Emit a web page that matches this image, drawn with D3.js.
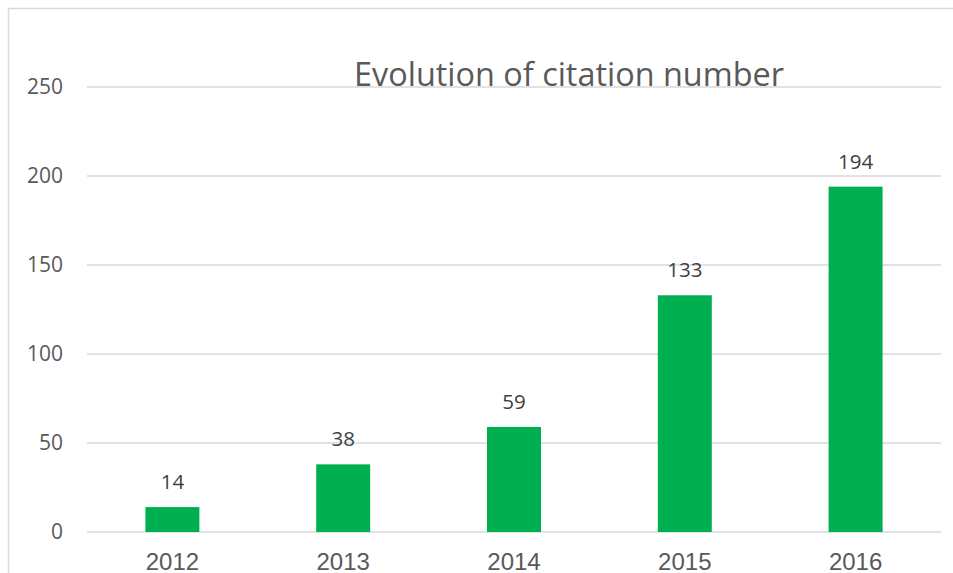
<!DOCTYPE html>
<html><head><meta charset="utf-8">
<script src="https://cdn.jsdelivr.net/npm/d3@7"></script>
<style>body{margin:0;background:#fff}svg{display:block}</style>
</head><body>
<svg id="c" width="953" height="573"></svg>
<script>
const categories = ["2012","2013","2014","2015","2016"];
const citations = [14, 38, 59, 133, 194];
const yTicks = [0, 50, 100, 150, 200, 250];
const chartTitle = "Evolution of citation number";

(function(){
const svg = d3.select("#c");
const W = 953, H = 573;
const pLeft = 87, pRight = 941, pTop = 87, pBottom = 532;

// chart border
svg.append("path").attr("d", `M8.5,${H} L8.5,8.5 L${W},8.5`).attr("fill","none").attr("stroke","#d9d9d9").attr("stroke-width",1.5);

const x = d3.scaleBand().domain(categories).range([pLeft, pRight]).paddingInner(0.684).paddingOuter(0.342);
const y = d3.scaleLinear().domain([0, 250]).range([pBottom, pTop]);

// gridlines
svg.append("g").selectAll("line").data(yTicks).join("line")
  .attr("x1", pLeft).attr("x2", pRight)
  .attr("y1", d => y(d)).attr("y2", d => y(d))
  .attr("stroke", "#d9d9d9").attr("stroke-width", 1.5);

// y axis labels
const yAxis = d3.axisLeft(y).tickValues(yTicks).tickSize(0).tickPadding(0);
const gy = svg.append("g").attr("transform", `translate(63,0)`).call(yAxis);
gy.select(".domain").remove();
gy.selectAll("text").attr("font-family","Open Sans").attr("font-size",21).attr("fill","#595959");

// title
svg.append("text").attr("x", 569).attr("y", 86).attr("text-anchor","middle")
  .attr("font-family","Open Sans").attr("font-size",32).attr("fill","#595959")
  .attr("textLength", 430).attr("lengthAdjust","spacingAndGlyphs").text(chartTitle);

// bars
svg.append("g").selectAll("rect").data(citations).join("rect")
  .attr("x", (d,i) => x(categories[i]))
  .attr("width", x.bandwidth())
  .attr("y", d => y(d))
  .attr("height", d => y(0) - y(d))
  .attr("fill", "#00b050");

// data labels
svg.append("g").selectAll("text").data(citations).join("text")
  .attr("x", (d,i) => x(categories[i]) + x.bandwidth()/2)
  .attr("y", d => y(d) - 18)
  .attr("text-anchor","middle")
  .attr("font-family","Open Sans").attr("font-size",20.5).attr("fill","#404040")
  .text(d => d);

// x axis labels
const xAxis = d3.axisBottom(x).tickSize(0).tickPadding(0);
const gx = svg.append("g").attr("transform", `translate(0,${pBottom})`).call(xAxis);
gx.select(".domain").remove();
gx.selectAll("text").attr("dy", null).attr("y", 38)
  .attr("font-family","Liberation Sans").attr("font-size",24).attr("fill","#595959");
})();
</script>
</body></html>
